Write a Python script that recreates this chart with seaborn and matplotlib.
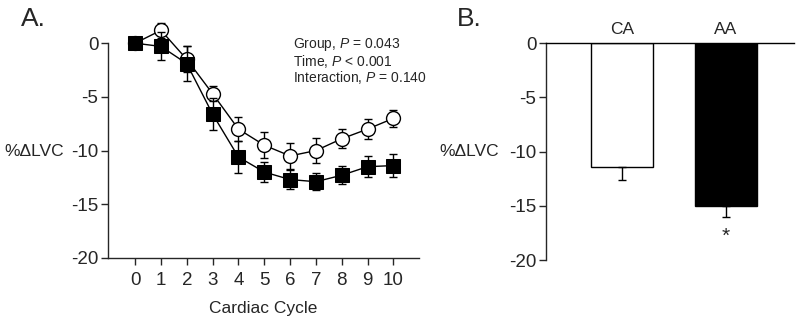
import numpy as np
import pandas as pd
import matplotlib
matplotlib.use("Agg")
import matplotlib.pyplot as plt
import seaborn as sns

# data
cycles = [0, 1, 2, 3, 4, 5, 6, 7, 8, 9, 10]
ca_mean = [0, 1.2, -1.5, -4.7, -8.0, -9.5, -10.5, -10.0, -8.9, -8.0, -7.0]
ca_err = [0.3, 0.7, 1.2, 0.7, 1.1, 1.2, 1.25, 1.2, 0.9, 0.9, 0.8]
aa_mean = [0, -0.3, -1.9, -6.6, -10.6, -12.0, -12.7, -12.9, -12.3, -11.5, -11.4]
aa_err = [0.3, 1.3, 1.6, 1.45, 1.45, 0.9, 0.85, 0.8, 0.85, 0.95, 1.05]

groups = ["CA", "AA"]
bar_mean = [-11.45, -15.0]
bar_err = [1.2, 1.05]
bar_colors = ["white", "black"]

stats_text = ["Group, $\\it{P}$ = 0.043", "Time, $\\it{P}$ < 0.001", "Interaction, $\\it{P}$ = 0.140"]

sns.set_style("ticks")
plt.rcParams["font.family"] = ["Liberation Sans", "DejaVu Sans"]
plt.rcParams["mathtext.fontset"] = "custom"
plt.rcParams["mathtext.it"] = "Liberation Sans:italic"
plt.rcParams["mathtext.rm"] = "Liberation Sans"

fig = plt.figure(figsize=(8, 3.22), dpi=100)
axA = fig.add_axes([0.135, 0.199, 0.389, 0.7335])
axB = fig.add_axes([0.6825, 0.1925, 0.31, 0.673])

# ---- panel A
df = pd.DataFrame({"cycle": cycles, "ca": ca_mean, "aa": aa_mean})
axA.errorbar(cycles, ca_mean, yerr=ca_err, fmt="none", ecolor="black",
             elinewidth=1, capsize=3, capthick=1, zorder=1)
sns.lineplot(data=df, x="cycle", y="ca", ax=axA, color="black", lw=1,
             marker="o", markersize=10, markerfacecolor="white",
             markeredgecolor="black", markeredgewidth=1, zorder=2)
axA.errorbar(cycles, aa_mean, yerr=aa_err, fmt="none", ecolor="black",
             elinewidth=1, capsize=3, capthick=1, zorder=3)
sns.lineplot(data=df, x="cycle", y="aa", ax=axA, color="black", lw=1,
             marker="s", markersize=9.5, markerfacecolor="black",
             markeredgecolor="black", zorder=4)
for ln in axA.lines:
    ln.set_clip_on(False)

axA.set_xlim(-1.05, 11)
axA.set_ylim(-20, 2)
axA.set_xticks(cycles)
axA.set_yticks([0, -5, -10, -15, -20])
axA.set_yticklabels(["0", "-5", "-10", "-15", "-20"])
axA.spines["left"].set_bounds(-20, 0)
axA.spines["top"].set_visible(False)
axA.spines["right"].set_visible(False)
for s in ["left", "bottom"]:
    axA.spines[s].set_linewidth(1)
axA.tick_params(axis="both", labelsize=13.5, length=5, width=1, direction="out")
axA.tick_params(axis="x", pad=5)
axA.tick_params(axis="y", pad=2)
axA.set_xlabel("Cardiac Cycle", fontsize=12.5, labelpad=9)
axA.set_ylabel("")
for i, line in enumerate(stats_text):
    axA.text(6.1, 0.65 - i * 1.53, line, fontsize=10, va="top", ha="left")

# ---- panel B
dfb = pd.DataFrame({"group": groups, "val": bar_mean})
sns.barplot(data=dfb, x="group", y="val", ax=axB, palette=bar_colors,
            hue="group", legend=False, edgecolor="black", linewidth=1,
            width=0.6, errorbar=None)
axB.errorbar([0, 1], bar_mean, yerr=[[e for e in bar_err], [0, 0]], fmt="none",
             ecolor="black", elinewidth=1, capsize=3, capthick=1)
axB.set_xlim(-0.74, 1.66)
axB.set_ylim(-20, 0)
axB.set_yticks([0, -5, -10, -15, -20])
axB.set_yticklabels(["0", "-5", "-10", "-15", "-20"])
axB.set_xticks([])
axB.set_xlabel("")
axB.set_ylabel("")
axB.spines["bottom"].set_visible(False)
axB.spines["right"].set_visible(False)
axB.spines["top"].set_visible(True)
axB.spines["top"].set_color("black")
for s in ["left", "top"]:
    axB.spines[s].set_linewidth(1)
axB.tick_params(axis="y", labelsize=13.5, length=5, width=1, direction="out", pad=2)
for i, g in enumerate(groups):
    axB.text(i, 0.6, g, ha="center", va="bottom", fontsize=12.5)
axB.text(1, bar_mean[1] - bar_err[1] - 0.9, "*", ha="center", va="top", fontsize=15)

# labels
fig.text(0.026, 0.978, "A.", fontsize=19, va="top", ha="left")
fig.text(0.571, 0.978, "B.", fontsize=19, va="top", ha="left")
fig.text(0.006, 0.528, "%ΔLVC", fontsize=12.5, va="center", ha="left")
fig.text(0.549, 0.528, "%ΔLVC", fontsize=12.5, va="center", ha="left")

fig.savefig("out.png", dpi=100)
